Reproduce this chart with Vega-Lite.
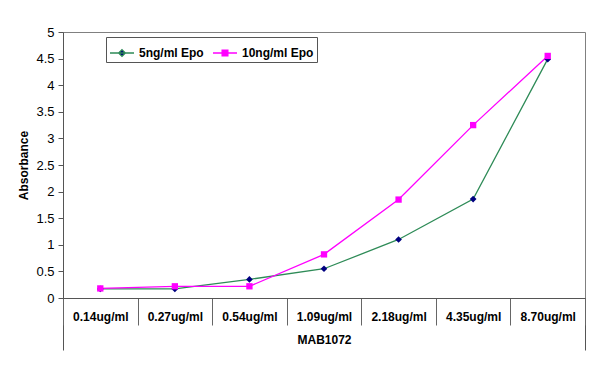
{
  "$schema": "https://vega.github.io/schema/vega-lite/v6.json",
  "autosize": "none",
  "width": 522,
  "height": 266,
  "padding": {"left": 63, "top": 32, "right": 15, "bottom": 70},
  "background": "white",
  "config": {
    "font": "Liberation Sans",
    "view": {"stroke": "#808080", "strokeWidth": 1}
  },
  "datasets": {
    "main": [
      {"conc": "0.14ug/ml", "series": "5ng/ml Epo", "abs": 0.17},
      {"conc": "0.27ug/ml", "series": "5ng/ml Epo", "abs": 0.17},
      {"conc": "0.54ug/ml", "series": "5ng/ml Epo", "abs": 0.35},
      {"conc": "1.09ug/ml", "series": "5ng/ml Epo", "abs": 0.55},
      {"conc": "2.18ug/ml", "series": "5ng/ml Epo", "abs": 1.1},
      {"conc": "4.35ug/ml", "series": "5ng/ml Epo", "abs": 1.86},
      {"conc": "8.70ug/ml", "series": "5ng/ml Epo", "abs": 4.49},
      {"conc": "0.14ug/ml", "series": "10ng/ml Epo", "abs": 0.18},
      {"conc": "0.27ug/ml", "series": "10ng/ml Epo", "abs": 0.22},
      {"conc": "0.54ug/ml", "series": "10ng/ml Epo", "abs": 0.22},
      {"conc": "1.09ug/ml", "series": "10ng/ml Epo", "abs": 0.82},
      {"conc": "2.18ug/ml", "series": "10ng/ml Epo", "abs": 1.85},
      {"conc": "4.35ug/ml", "series": "10ng/ml Epo", "abs": 3.25},
      {"conc": "8.70ug/ml", "series": "10ng/ml Epo", "abs": 4.55}
    ],
    "group": [{"group": "MAB1072"}]
  },
  "resolve": {"scale": {"x": "independent"}, "axis": {"x": "independent"}},
  "layer": [
    {
      "data": {"name": "group"},
      "mark": {"type": "rule", "opacity": 0},
      "encoding": {
        "x": {
          "field": "group",
          "type": "nominal",
          "scale": {"type": "band", "paddingInner": 0, "paddingOuter": 0},
          "axis": {
            "orient": "bottom",
            "title": "MAB1072",
            "labels": false,
            "domain": false,
            "tickBand": "extent",
            "tickSize": 52,
            "tickColor": "#555555",
            "titleFont": "Liberation Sans",
            "titleFontSize": 12,
            "titleFontWeight": "bold",
            "titleColor": "black",
            "titleY": 36,
            "titleBaseline": "top"
          }
        }
      }
    },
    {
      "data": {"name": "main"},
      "encoding": {
        "x": {
          "field": "conc",
          "type": "ordinal",
          "sort": null,
          "bandPosition": 0.5,
          "scale": {"type": "band", "paddingInner": 0, "paddingOuter": 0},
          "axis": {
            "orient": "bottom",
            "title": null,
            "labelAngle": 0,
            "tickBand": "extent",
            "tickSize": 27,
            "tickColor": "#666666",
            "domainColor": "#555555",
            "labelPadding": -14,
            "labelFont": "Liberation Sans",
            "labelFontSize": 12,
            "labelFontWeight": "bold",
            "labelColor": "black"
          }
        },
        "y": {
          "field": "abs",
          "type": "quantitative",
          "scale": {"domain": [0, 5]},
          "axis": {
            "title": "Absorbance",
            "values": [0, 0.5, 1, 1.5, 2, 2.5, 3, 3.5, 4, 4.5, 5],
            "format": "~g",
            "labelOverlap": false,
            "grid": false,
            "tickSize": 5,
            "tickColor": "#555555",
            "domainColor": "#555555",
            "labelPadding": 4,
            "labelFont": "Liberation Sans",
            "labelFontSize": 13,
            "labelColor": "black",
            "titleFont": "Liberation Sans",
            "titleFontSize": 12,
            "titleFontWeight": "bold",
            "titleColor": "black",
            "titlePadding": 5
          }
        }
      },
      "layer": [
        {
          "mark": {"type": "line", "strokeWidth": 1.3},
          "encoding": {
            "stroke": {
              "field": "series",
              "type": "nominal",
              "scale": {"domain": ["5ng/ml Epo", "10ng/ml Epo"], "range": ["#2E8B57", "#FF00FF"]},
              "legend": {
                "title": null,
                "orient": "none",
                "legendX": 43,
                "legendY": 5,
                "direction": "horizontal",
                "strokeColor": "#555555",
                "fillColor": "white",
                "padding": 3,
                "symbolSize": 576,
                "symbolStrokeWidth": 1.3,
                "symbolType": "M-1,0H1",
                "labelFont": "Liberation Sans",
                "labelFontSize": 12,
                "labelFontWeight": "bold",
                "labelColor": "black",
                "labelOffset": 4,
                "columnPadding": 6,
                "encode": {
                  "symbols": {
                    "update": {
                      "shape": {"signal": "datum.value === '5ng/ml Epo' ? 'M-1,0H1M0,-0.28L0.28,0L0,0.28L-0.28,0Z' : 'M-1,0H1M-0.24,-0.24H0.24V0.24H-0.24Z'"},
                      "fill": {"signal": "datum.value === '5ng/ml Epo' ? '#000080' : '#FF00FF'"}
                    }
                  }
                }
              }
            }
          }
        },
        {
          "transform": [{"filter": "datum.series === '5ng/ml Epo'"}],
          "mark": {"type": "point", "filled": true, "opacity": 1, "shape": "diamond", "color": "#000080", "size": 45}
        },
        {
          "transform": [{"filter": "datum.series === '10ng/ml Epo'"}],
          "mark": {"type": "point", "filled": true, "opacity": 1, "shape": "square", "color": "#FF00FF", "size": 40}
        }
      ]
    }
  ]
}
